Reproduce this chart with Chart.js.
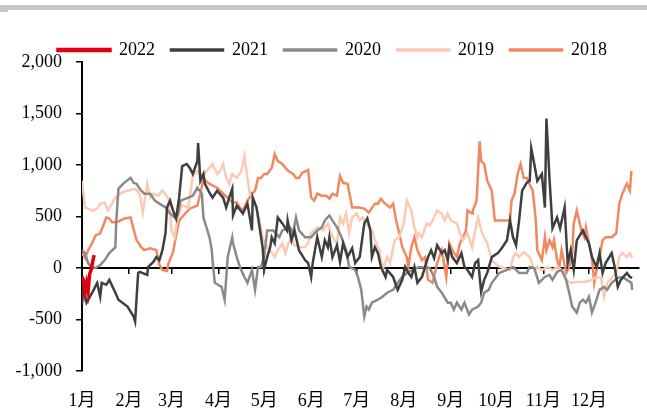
<!DOCTYPE html>
<html>
<head>
<meta charset="utf-8">
<script src="https://cdn.jsdelivr.net/npm/chart.js@4"></script>
<style>
  html, body { margin: 0; padding: 0; background: #fff; }
  #wrap { position: relative; width: 647px; height: 415px; }
  #bar { position: absolute; left: 0; top: 5px; width: 647px; height: 5px; background: #c6c6c6; }
  #bar2 { position: absolute; left: 0; top: 10px; width: 8px; height: 2px; background: #c6c6c6; }
  canvas { position: absolute; left: 0; top: 0; }
</style>
</head>
<body>
<div id="wrap">
  <canvas id="c" width="647" height="415"></canvas>
  <div id="bar"></div><div id="bar2"></div>
</div>
<script>
// ---- Data (x = day of year, y = value) ----
const monthLabels = ['1月','2月','3月','4月','5月','6月','7月','8月','9月','10月','11月','12月'];
const monthStarts = [0,31,59,90,120,151,181,212,243,273,304,334];
const yTicks = [-1000,-500,0,500,1000,1500,2000];

const days2022 = [0,1,2,3,4,5,6,7,8];
const vals2022 = [-80,-120,-230,-150,-230,-60,-20,60,125];

const days2021 = [0,1,3,7,10,12,13,16,18,22,24,30,34,35,37,38,43,43.5,47,49,51,53,55,56,58,60,62,64,66,69,71,73,76,76.5,78,80,81,84,86,89,93,95,97,99,99.5,102,106,109,112,112.5,115,117,119,120,122,124,125,127,129,132,135,135.5,138,140,143,147,149,151,152,155,158,160,162,163,165,168,170,172,175,178,180,183,186,188,190,191,193,195,197,200,201,205,208,211,213,215,217,219,221,224,228,230,232,234,237,239,241,242,244,247,250,252,254,257,259,261,262,263,265,267,270,274,277,280,282,284,286,288,290,293,295,296,298,300,303,305,306,308,310,313,315,318,320,322,324,326,330,332,334,336,339,341,343,345,349,351,353,355,359,361,362.5];
const vals2021 = [-356,-183,-337,-231,-144,-279,-144,-163,-115,-240,-308,-375,-471,-519,-48,-38,-67,10,58,106,77,173,337,587,654,558,481,683,990,1010,971,913,1038,1212,846,913,817,731,683,750,683,587,683,769,510,606,529,625,365,683,587,394,202,-19,106,202,298,240,490,433,365,462,269,365,170,77,48,-87,48,298,106,269,202,298,106,221,58,240,106,192,48,106,433,481,365,106,202,144,10,-87,-19,-87,-212,-115,10,-48,-87,10,-144,-87,106,173,96,221,144,173,77,202,106,48,144,10,-19,-87,48,77,-87,-231,-115,-48,106,144,202,269,462,298,221,462,750,827,846,1163,1010,846,913,587,1452,875,385,490,385,587,48,173,-19,269,365,298,240,106,10,144,-48,48,144,10,-183,-115,-48,-87,-96];

const days2020 = [0,2,4,6,9,12,15,18,22,22.5,24,27,32,34,36,38,41,45,48,51,55,58,61,63,65,70,73,76,79,80,82,84,85.5,86,87.5,89.5,92,94,96,99,99.5,102,104,107,109,112,114,116,118,120,122,126,130,132,137,139,141,143,147,151,155,158,160,163,165,168,171,174,176,180,182,184,186,187.5,189,191,195,198,201,205,208,211,214,218,222,229,232,234,237,241,243,245,247,250,252,255,257,261,263,265,268,270,273,275,280,284,288,293,295,298,301,305,308,310,313,316,319,321,323,326,328,330,332,334,336,339,341,344,346,349,353,356,359,362,362.5];
const vals2020 = [173,144,48,10,0,29,77,144,202,433,769,817,875,827,817,769,721,721,654,625,587,529,490,510,654,683,702,779,721,490,394,298,173,77,-144,-163,-183,-308,106,298,240,106,10,-87,-144,-19,-212,10,10,106,365,365,298,365,394,337,490,365,298,298,365,394,462,510,462,394,298,173,10,-19,-96,-212,-471,-375,-404,-337,-308,-279,-240,-212,-144,-87,-48,-19,10,0,-87,-183,-240,-337,-337,-404,-337,-404,-337,-452,-404,-375,-337,-240,-212,-144,-87,-48,-19,10,-48,-48,10,0,-144,-87,-67,-115,-38,-19,-115,-240,-375,-433,-337,-308,-337,-279,-433,-308,-212,-183,-212,-144,-96,-87,-115,-144,-212];

const days2019 = [0,2,4,7,10,12,15,17,19,22,26,30,35,38,40,43,45,47,50,53,57,59,61,63,66,70,73,76,79,82,84,86,89,91,93,95,97,99,102,105,107,109,110.5,112.5,115,117,119,122,124,127,129,132,134,136,138,140,143,147,149,151,153,155,159,162,165,168,170,172,174,176,178,181,183,185,187,191,193,196,198,201,203,206,209,212,214,217,219,221,222,224,227,229,231,234,237,239,241,243,247,249,251,254,257,259,261,263,265,267,270,272,275,278,282,284,286,288,291,295,298,300,303,307,310,313,316,319,322,326,331,336,339,342,344,346,349,352,354,356,359,361,362.5];
const vals2019 = [846,587,577,558,577,625,635,558,606,683,731,750,769,721,538,817,683,721,702,750,673,365,298,490,606,587,894,942,875,942,971,1010,913,942,1010,875,817,913,875,942,1087,875,721,683,587,462,298,202,173,106,173,240,144,240,298,221,202,202,240,337,365,394,365,433,298,240,490,433,529,337,490,529,462,490,433,365,269,173,-19,106,48,269,298,433,654,558,394,298,337,298,433,413,462,558,529,462,529,462,433,337,269,337,202,365,490,365,298,240,77,48,10,0,-19,106,144,106,154,106,-19,10,-19,10,-19,10,-19,-115,-144,-135,-135,-115,-87,-96,-279,-144,-96,-48,106,144,106,144,96];

const days2018 = [0,2,4,6,9,12,14,16,18,20,24,28,32,34,36,39,41,45,49,51,53,56,57,60,62,64,68,71,76,78,80,84,89,91,93,96,99,102,104,106,109,112,114,116,118,120,122,125,127,129,132,134,136,139,141,143,145,149,151,153,155,158,161,163,165,168,170,172,175,178,183,186,189,193,195,197,199,203,205,207,209,211,214,215,217,219,221,224,226,228,231,234,237,239,240,242,244,247,249,251,253,254,257,257.5,260,262,263,265,267,270,272,278,282,283,285,287,289,291,293,297,299,300,303,305,306,308,310,311,313,314.5,316,319,321,323,324,326,329,331,332,334,336,337.5,339,341,343,345,349,352,354,356,359,361,362];
const vals2018 = [144,96,173,221,317,337,413,490,481,442,452,481,490,375,269,202,173,192,173,29,-19,-29,48,154,317,462,529,577,606,721,865,817,779,750,721,683,635,635,587,558,654,721,750,875,875,913,913,971,1106,1038,1010,971,942,913,875,875,923,952,683,654,721,702,702,673,721,702,894,827,817,587,587,577,538,625,625,673,635,587,625,462,337,202,106,10,202,298,173,77,106,-115,-144,48,173,10,-87,240,173,106,240,298,365,558,529,558,654,1231,1038,1010,846,750,462,462,462,654,721,913,1010,875,875,750,462,173,77,298,173,269,202,269,77,10,173,-48,10,144,433,558,365,298,394,240,106,-144,-19,106,269,298,298,337,625,721,817,750,942];

const seriesNames = ['2022','2021','2020','2019','2018'];
const seriesColors = ['#e0000f','#3f3f3f','#8a8a8a','#fccab2','#f1885f'];
const seriesWidths = [3.5,2.5,2.5,2.5,2.5];
const seriesDays = [days2022,days2021,days2020,days2019,days2018];
const seriesVals = [vals2022,vals2021,vals2020,vals2019,vals2018];

const datasets = seriesNames.map((name, i) => ({
  label: name,
  data: seriesDays[i].map((d, k) => ({x: d, y: seriesVals[i][k]})),
  borderColor: seriesColors[i],
  backgroundColor: seriesColors[i],
  borderWidth: seriesWidths[i],
  pointRadius: 0,
  tension: 0,
  fill: false
}));

const FONT = "'Liberation Serif', 'Times New Roman', 'Noto Sans CJK SC', serif";

function monthTicks(scale) {
  scale.ticks = monthStarts.map(v => ({value: v}));
}

// shift the legend horizontally so it sits where the reference legend is
const legendShift = {
  id: 'legendShift',
  afterLayout(chart) {
    if (chart.legend) { chart.legend.left += 13; chart.legend.right += 13; }
  }
};

new Chart(document.getElementById('c'), {
  type: 'line',
  data: { datasets },
  plugins: [legendShift],
  options: {
    responsive: false,
    animation: false,
    layout: { padding: { top: 25, left: 0, right: 8, bottom: 0 } },
    plugins: {
      legend: {
        display: true,
        position: 'top',
        maxHeight: 37,
        labels: {
          font: { family: FONT, size: 18 },
          color: '#000',
          boxWidth: 52,
          boxHeight: 1,
          padding: 16
        }
      },
      tooltip: { enabled: false }
    },
    scales: {
      x: {
        type: 'linear',
        min: 0,
        max: 367,
        afterBuildTicks: monthTicks,
        afterFit: (s) => { s.height = 44; },
        grid: { display: false, drawTicks: false },
        border: { display: false },
        ticks: {
          autoSkip: false,
          maxRotation: 0,
          padding: 19,
          color: '#000',
          font: { family: FONT, size: 18 },
          callback: (v) => monthLabels[monthStarts.indexOf(v)]
        }
      },
      x0: {
        type: 'linear',
        position: { y: 0 },
        min: 0,
        max: 367,
        afterBuildTicks: monthTicks,
        afterFit: (s) => { s.height = 0; },
        grid: { drawOnChartArea: false, drawTicks: true, tickLength: 5, color: '#000', lineWidth: 1.5 },
        border: { display: true, color: '#000', width: 2 },
        ticks: { display: false }
      },
      y: {
        type: 'linear',
        min: -1000,
        max: 2000,
        afterBuildTicks: (scale) => { scale.ticks = yTicks.map(v => ({value: v})); },
        afterFit: (s) => { s.width = 82; },
        grid: { drawOnChartArea: false, drawTicks: true, tickLength: 6, color: '#000', lineWidth: 1.5 },
        border: { display: true, color: '#000', width: 2 },
        ticks: {
          padding: 14,
          color: '#000',
          font: { family: FONT, size: 18 },
          callback: (v) => v.toLocaleString('en-US')
        }
      }
    }
  }
});
</script>
</body>
</html>
